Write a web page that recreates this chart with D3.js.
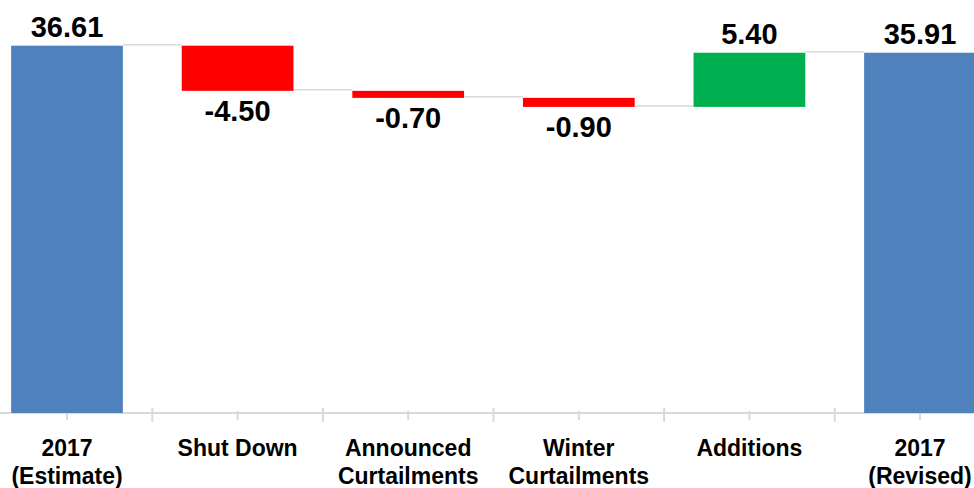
<!DOCTYPE html>
<html lang="en">
<head>
    <meta charset="UTF-8">
    <script src="https://d3js.org/d3.v7.min.js"></script>
    <title>2017 waterfall</title>
    <style>
        body { margin: 0; background: #fff; }
        text { font-family: "Liberation Sans", Arial, sans-serif; font-weight: bold; fill: #000; }
    </style>
</head>
<body>
    <div id="chart"></div>
<script>
    // data
    const categories = ["2017\n(Estimate)", "Shut Down", "Announced\nCurtailments", "Winter\nCurtailments", "Additions", "2017\n(Revised)"];
    const values = [36.61, -4.50, -0.70, -0.90, 5.40, 35.91];
    const kinds = ["total", "delta", "delta", "delta", "delta", "total"];

    const W = 974, H = 488;
    const baseY = 413, topY = 45.7;

    let svg = d3.select("#chart").append("svg")
        .attr("width", W)
        .attr("height", H);

    // build start/end of every bar
    let running = 0;
    const bars = categories.map(function (c, i) {
        let start, end;
        if (kinds[i] === "total") { start = 0; end = values[i]; running = values[i]; }
        else { start = running; end = running + values[i]; running = end; }
        return {cat: c, value: values[i], kind: kinds[i], start: start, end: end};
    });

    let x = d3.scaleBand().domain(categories).range([-18.3, 1005.3])
        .paddingInner(0.345).paddingOuter(0.1725);
    let y = d3.scaleLinear().domain([0, d3.max(values)]).range([baseY, topY]);

    const step = x.step();
    // plain hyphen for negatives, like the source
    const fmt = d3.formatLocale({decimal: ".", thousands: ",", grouping: [3], currency: ["", ""], minus: "-"}).format(".2f");

    // axis line with center ticks
    let xAxis = svg.append("g").attr("transform", "translate(0," + baseY + ")")
        .call(d3.axisBottom(x).tickSize(7).tickFormat(""));
    xAxis.select(".domain").attr("d", "M0,0H" + W).attr("stroke", "#d9d9d9").attr("stroke-width", 2);
    xAxis.selectAll(".tick line").attr("stroke", "#d9d9d9").attr("stroke-width", 2).attr("y1", -2);

    // boundary ticks
    svg.append("g").selectAll("line").data(categories.slice(1)).enter()
        .append("line")
        .attr("x1", function (d) { return x(d) - (step - x.bandwidth()) / 2; })
        .attr("x2", function (d) { return x(d) - (step - x.bandwidth()) / 2; })
        .attr("y1", baseY - 5)
        .attr("y2", baseY + 9)
        .attr("stroke", "#d9d9d9")
        .attr("stroke-width", 2);

    // connectors
    svg.append("g").selectAll("line").data(bars.slice(0, -1)).enter()
        .append("line")
        .attr("x1", function (d) { return x(d.cat) + x.bandwidth(); })
        .attr("x2", function (d, i) { return x(bars[i + 1].cat); })
        .attr("y1", function (d) { return y(d.end) - 1; })
        .attr("y2", function (d) { return y(d.end) - 1; })
        .attr("stroke", "#d9d9d9")
        .attr("stroke-width", 1.5);

    const color = function (d) {
        if (d.kind === "total") return "#4f81bd";
        return d.value < 0 ? "#ff0000" : "#00b050";
    };

    // bars
    svg.append("g").selectAll("rect").data(bars).enter()
        .append("rect")
        .attr("x", function (d) { return x(d.cat); })
        .attr("y", function (d) { return y(Math.max(d.start, d.end)); })
        .attr("width", x.bandwidth())
        .attr("height", function (d) { return Math.abs(y(d.start) - y(d.end)); })
        .style("fill", color);

    // value labels
    svg.append("g").selectAll("text").data(bars).enter()
        .append("text")
        .attr("text-anchor", "middle")
        .attr("font-size", 29)
        .attr("x", function (d) { return x(d.cat) + x.bandwidth() / 2; })
        .attr("y", function (d) {
            return d.value < 0 ? y(d.end) + 30 : y(d.end) - 9;
        })
        .text(function (d) { return fmt(d.value); });

    // category labels
    let catLabels = svg.append("g").selectAll("text").data(categories).enter()
        .append("text")
        .attr("text-anchor", "middle")
        .attr("font-size", 23)
        .attr("y", 456);
    catLabels.each(function (d) {
        const lines = d.split("\n");
        const cx = x(d) + x.bandwidth() / 2;
        d3.select(this).selectAll("tspan").data(lines).enter()
            .append("tspan")
            .attr("x", cx)
            .attr("dy", function (l, i) { return i === 0 ? 0 : 28; })
            .text(function (l) { return l; });
    });
</script>
</body>
</html>
